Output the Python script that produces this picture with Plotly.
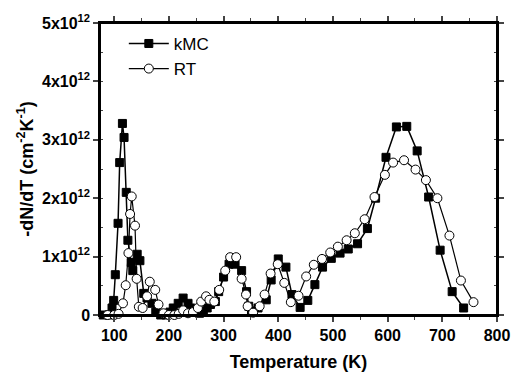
import plotly.graph_objects as go

# Temperature (K) and -dN/dT (units of 1e12 cm^-2 K^-1)
kmc_T = [80, 90, 96, 99, 102, 107, 110, 115, 118, 122, 125, 131, 134, 142, 147, 154, 160, 169,
         176, 185, 195, 202, 208, 217, 226, 235, 240, 247, 256, 263, 270, 276, 285, 291, 300,
         310, 321, 333, 342, 346, 351, 363, 378, 387, 400, 414, 425, 440, 454, 467, 481, 497,
         513, 528, 545, 563, 578, 597, 616, 635, 654, 675, 696, 718, 739]
kmc_v = [0.0, 0.0, 0.12, 0.25, 0.69, 1.57, 2.61, 3.28, 3.04, 2.10, 1.28, 0.90, 0.76, 1.04, 0.93,
         0.37, 0.29, 0.20, 0.05, 0.0, 0.0, 0.05, 0.12, 0.20, 0.29, 0.20, 0.12, 0.05, 0.03, 0.06,
         0.12, 0.18, 0.23, 0.40, 0.65, 0.87, 0.87, 0.76, 0.40, 0.15, 0.07, 0.12, 0.26, 0.60, 0.96,
         0.82, 0.35, 0.13, 0.25, 0.52, 0.82, 0.97, 1.06, 1.13, 1.22, 1.48, 2.00, 2.70, 3.22, 3.23,
         2.81, 2.02, 1.11, 0.40, 0.12]

rt_T = [88, 100, 108, 116, 121, 126, 129, 132, 138, 141, 145, 152, 160, 165, 175, 181, 190, 200,
        210, 218, 226, 235, 244, 253, 259, 268, 274, 283, 292, 303, 312, 323, 333, 341, 344, 354,
        366, 375, 386, 399, 411, 423, 437, 451, 465, 480, 495, 509, 525, 540, 558, 576, 595, 610,
        630, 651, 670, 691, 713, 734, 757]
rt_v = [0.0, 0.0, 0.02, 0.20, 0.51, 1.06, 1.73, 2.03, 1.53, 0.62, 0.14, 0.12, 0.32, 0.57, 0.43,
        0.18, 0.03, 0.0, 0.0, 0.02, 0.08, 0.03, 0.05, 0.12, 0.23, 0.32, 0.26, 0.23, 0.43, 0.76,
        0.99, 0.99, 0.62, 0.35, 0.15, 0.04, 0.15, 0.35, 0.71, 0.87, 0.55, 0.22, 0.33, 0.66, 0.86,
        0.96, 1.07, 1.17, 1.28, 1.40, 1.64, 2.02, 2.40, 2.61, 2.65, 2.49, 2.31, 2.00, 1.36, 0.59,
        0.22]

x_ticks = [100, 200, 300, 400, 500, 600, 700, 800]
y_tickvals = [0, 1e12, 2e12, 3e12, 4e12, 5e12]
y_ticktext = ["0", "1x10<sup>12</sup>", "2x10<sup>12</sup>", "3x10<sup>12</sup>",
              "4x10<sup>12</sup>", "5x10<sup>12</sup>"]

X_RANGE = [74, 800]
Y_RANGE = [0, 5e12]
FONT = "Liberation Sans, Arial, sans-serif"

fig = go.Figure()
fig.add_trace(go.Scatter(
    x=kmc_T, y=[v * 1e12 for v in kmc_v], name="kMC", mode="lines+markers",
    line=dict(color="black", width=1.5),
    marker=dict(symbol="square", size=8, color="black", line=dict(color="black", width=1)),
    cliponaxis=False))
fig.add_trace(go.Scatter(
    x=rt_T, y=[v * 1e12 for v in rt_v], name="RT", mode="lines+markers",
    line=dict(color="black", width=1.2),
    marker=dict(symbol="circle", size=9, color="white", line=dict(color="black", width=1)),
    cliponaxis=False))

# frame of the plotting area
fig.add_shape(type="rect", xref="paper", yref="paper", x0=0, y0=0, x1=1, y1=1,
              line=dict(color="black", width=2), layer="above")

fig.update_layout(
    width=522, height=381,
    margin=dict(l=100, r=13, t=20, b=62),
    paper_bgcolor="white", plot_bgcolor="white",
    font=dict(family=FONT, color="black"),
    showlegend=True,
    legend=dict(x=0.06, y=0.99, xanchor="left", yanchor="top",
                bgcolor="rgba(0,0,0,0)", font=dict(size=17, family=FONT),
                itemwidth=40, tracegroupgap=0),
    xaxis=dict(range=X_RANGE, tickvals=x_ticks, ticks="outside", ticklen=5, tickwidth=1.5,
               showline=True, linecolor="black", linewidth=1.5, showgrid=False, zeroline=False,
               mirror="ticks",
               tickfont=dict(size=16, family=FONT, weight="bold"),
               minor=dict(dtick=50, tick0=0, ticks="outside", ticklen=3, tickwidth=1.2),
               title=dict(text="<b>Temperature (K)</b>", font=dict(size=18, family=FONT),
                          standoff=12)),
    yaxis=dict(range=Y_RANGE, tickvals=y_tickvals, ticktext=y_ticktext, ticks="outside",
               ticklen=5, tickwidth=1.5, showline=True, linecolor="black", linewidth=1.5,
               showgrid=False, zeroline=False, mirror="ticks",
               tickfont=dict(size=16, family=FONT, weight="bold"),
               minor=dict(dtick=0.5e12, tick0=0, ticks="inside", ticklen=3, tickwidth=1.2),
               title=dict(text="<b>-dN/dT (cm<sup>-2</sup>K<sup>-1</sup>)</b>",
                          font=dict(size=18, family=FONT), standoff=4)),
)

fig.write_html("out.html", config={"displayModeBar": False},
               post_script="document.body.style.margin='0';document.body.style.overflow='hidden';")
